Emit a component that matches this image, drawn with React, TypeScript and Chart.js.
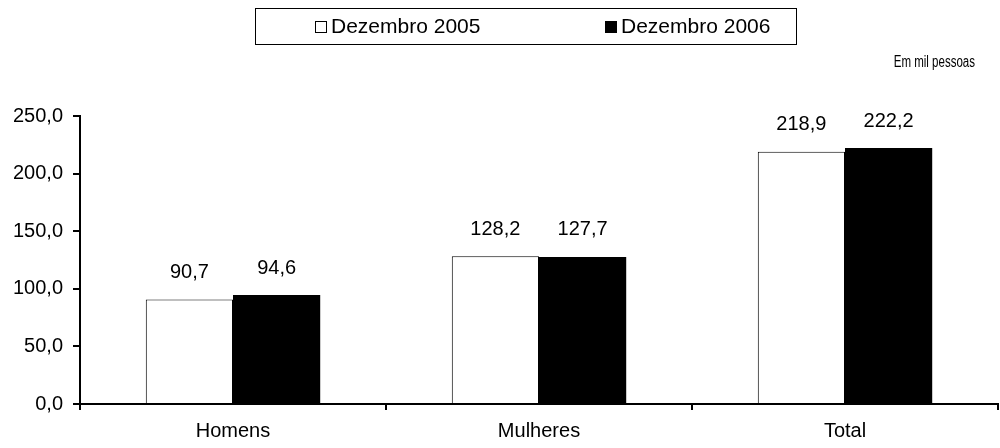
import React, { useEffect, useRef } from "react";
import { Chart, registerables } from "chart.js";

Chart.register(...registerables);

const categories = ["Homens", "Mulheres", "Total"];
const series2005 = [90.7, 128.2, 218.9];
const series2006 = [94.6, 127.7, 222.2];
const seriesLabels = ["Dezembro 2005", "Dezembro 2006"];
const unitNote = "Em mil pessoas";
const yTicks = [0, 50, 100, 150, 200, 250];

const FONT = "'Liberation Sans', Arial, sans-serif";
const fmt = (v: number) => v.toFixed(1).replace(".", ",");

const overlayPlugin = {
  id: "overlay",
  afterDraw(chart: any) {
    const ctx = chart.ctx;
    ctx.save();
    // value labels
    ctx.fillStyle = "#000";
    ctx.font = `20px ${FONT}`;
    ctx.textAlign = "center";
    ctx.textBaseline = "middle";
    chart.data.datasets.forEach((ds: any, i: number) => {
      const meta = chart.getDatasetMeta(i);
      meta.data.forEach((bar: any, j: number) => {
        ctx.fillText(fmt(ds.data[j]), bar.x, bar.y - 27);
      });
    });
    // legend box
    const bx = 255, by = 8, bw = 541, bh = 36;
    ctx.fillStyle = "#fff";
    ctx.fillRect(bx, by, bw, bh);
    ctx.strokeStyle = "#000";
    ctx.lineWidth = 1;
    ctx.strokeRect(bx + 0.5, by + 0.5, bw, bh);
    const itemX = [315, 605];
    ctx.font = `21px ${FONT}`;
    ctx.textAlign = "left";
    chart.data.datasets.forEach((ds: any, i: number) => {
      const x = itemX[i];
      const cy = by + bh / 2 + 1;
      ctx.fillStyle = ds.backgroundColor;
      ctx.fillRect(x, cy - 6, 12, 12);
      ctx.strokeStyle = "#000";
      ctx.strokeRect(x + 0.5, cy - 5.5, 11, 11);
      ctx.fillStyle = "#000";
      ctx.fillText(ds.label, x + 16, cy);
    });
    // unit note (condensed)
    ctx.font = `16px ${FONT}`;
    ctx.textAlign = "right";
    ctx.translate(975, 63);
    ctx.scale(0.72, 1);
    ctx.fillText(unitNote, 0, 0);
    ctx.restore();
  },
};

export default function App() {
  const ref = useRef<HTMLCanvasElement>(null);
  useEffect(() => {
    if (!ref.current) return;
    const chart = new Chart(ref.current, {
      type: "bar",
      data: {
        labels: categories,
        datasets: [
          {
            label: seriesLabels[0],
            data: series2005,
            backgroundColor: "#ffffff",
            borderColor: "#000000",
            borderWidth: 1,
          },
          {
            label: seriesLabels[1],
            data: series2006,
            backgroundColor: "#000000",
            borderColor: "#000000",
            borderWidth: 0,
          },
        ],
      },
      plugins: [overlayPlugin],
      options: {
        animation: false,
        responsive: false,
        maintainAspectRatio: false,
        datasets: { bar: { barPercentage: 1, categoryPercentage: 0.57 } },
        layout: { padding: { top: 116, right: 2, left: 0, bottom: 0 } },
        plugins: { legend: { display: false }, tooltip: { enabled: false } },
        scales: {
          x: {
            afterFit: (s: any) => { s.height = 44; },
            border: { color: "#000", width: 2 },
            grid: { drawOnChartArea: false, color: "#000", tickLength: 6, lineWidth: 2, offset: true },
            ticks: { color: "#000", font: { family: FONT, size: 20 }, padding: 9 },
          },
          y: {
            min: 0,
            max: 250,
            afterFit: (s: any) => { s.width = 80; },
            afterBuildTicks: (s: any) => { s.ticks = yTicks.map((v) => ({ value: v })); },
            border: { color: "#000", width: 2 },
            grid: { drawOnChartArea: false, color: "#000", tickLength: 7, lineWidth: 2 },
            ticks: { color: "#000", font: { family: FONT, size: 20 }, padding: 10, callback: (v: any) => fmt(Number(v)) },
          },
        },
      },
    });
    return () => chart.destroy();
  }, []);
  return (
    <div style={{ position: "absolute", left: 0, top: 0, width: 1000, height: 448, background: "#fff" }}>
      <canvas ref={ref} width={1000} height={448} style={{ width: 1000, height: 448 }} />
    </div>
  );
}
